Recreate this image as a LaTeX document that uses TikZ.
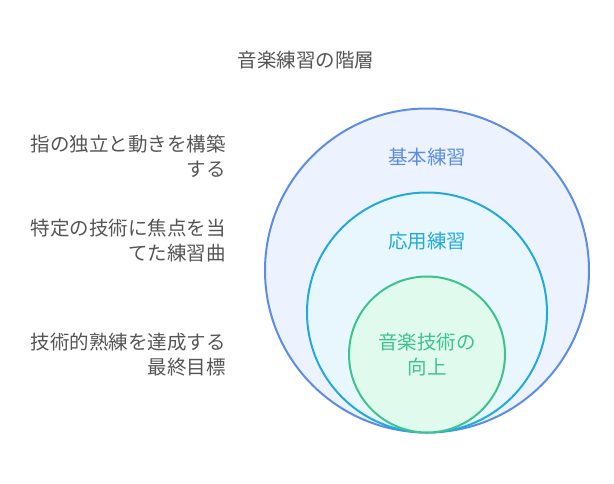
\documentclass[tikz,border=0pt]{standalone}
\usepackage{fontspec}
\setmainfont{Noto Sans CJK JP}
\usepackage{xcolor}
\definecolor{basic}{HTML}{5B8DE8}
\definecolor{basicfill}{HTML}{EDF3FE}
\definecolor{applied}{HTML}{22AADD}
\definecolor{appliedfill}{HTML}{E8F7FE}
\definecolor{skill}{HTML}{3DC48C}
\definecolor{skillfill}{HTML}{E0FBEE}
\definecolor{textgray}{HTML}{555555}
\usetikzlibrary{positioning}
\tikzset{
  ring/.style={circle, draw, line width=2pt, inner sep=0pt},
  lab/.style={font=\fontsize{19.5}{25}\selectfont, align=center},
  side/.style={font=\fontsize{19.5}{25}\selectfont, align=right, anchor=east, inner sep=0pt, text=textgray}
}

\begin{document}
\begin{tikzpicture}[x=1pt,y=-1pt]
\useasboundingbox (0,0) rectangle (614,483);

\node[lab, text=textgray] (title) at (306,60) {音楽練習の階層};

%%% CIRCLES
\node[ring, draw=basic, fill=basicfill, minimum size=324pt] (outer) at (427,270.5) {};
\node[ring, draw=applied, fill=appliedfill, minimum size=240pt] (middle) at (427,312.5) {};
\node[ring, draw=skill, fill=skillfill, minimum size=156pt] (inner) at (427,354.5) {};

\node[lab, text=basic] (basiclab) at (427,157) {基本練習};
\node[lab, text=applied] (appliedlab) at (427,241) {応用練習};
\node[lab, text=skill] (skilllab) at (427,355) {音楽技術の\\向上};

%%% SIDE TEXTS
\node[side] (basicnote) at (226,156) {指の独立と動きを構築\\する};
\node[side] (appliednote) at (226,241) {特定の技術に焦点を当\\てた練習曲};
\node[side] (skillnote) at (226,355) {技術的熟練を達成する\\最終目標};

\end{tikzpicture}
\end{document}
